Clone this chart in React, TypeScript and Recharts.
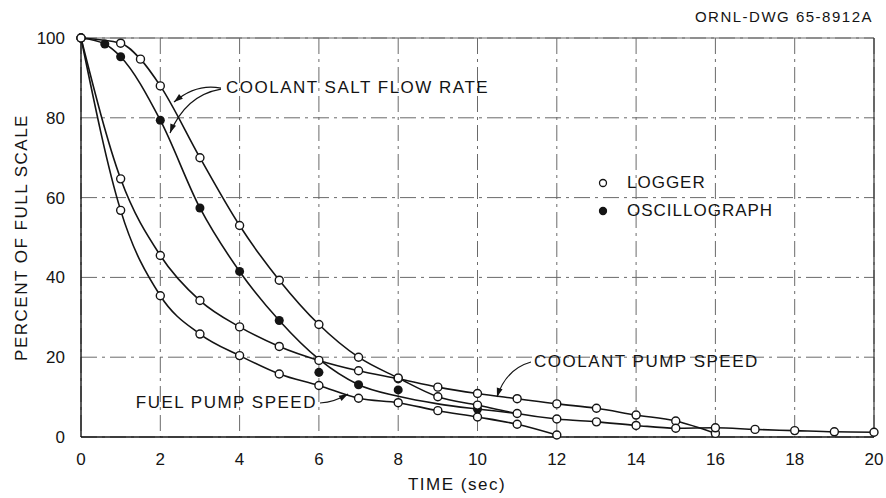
import React from "react";
import {
  ComposedChart,
  Line,
  Scatter,
  XAxis,
  YAxis,
  CartesianGrid,
  ReferenceLine,
  ReferenceDot,
  Legend,
} from "recharts";

// axis ticks
const timeTicks = [0, 2, 4, 6, 8, 10, 12, 14, 16, 18, 20];
const percentTicks = [0, 20, 40, 60, 80, 100];

// coolant salt flow rate, logger (open circles)
const saltLoggerTime = [0, 1, 1.5, 2, 3, 4, 5, 6, 7, 8, 9, 10, 11, 12, 13, 14, 15, 16, 17, 18, 19, 20];
const saltLoggerPct = [100, 98.7, 94.7, 88, 70, 53, 39.3, 28.2, 20, 14.8, 10.1, 8.0, 5.9, 4.5, 3.8, 2.9, 2.2, 2.3, 1.9, 1.6, 1.3, 1.2];

// coolant salt flow rate, oscillograph (filled points + faired curve)
const saltOscTime = [0.6, 1, 2, 3, 4, 5, 6, 7, 8, 10];
const saltOscPct = [98.5, 95.3, 79.4, 57.4, 41.5, 29.2, 16.2, 13.1, 11.8, 7.0];
const saltOscCurveTime = [0, 0.6, 1, 2, 3, 4, 5, 6, 7, 8, 9, 10, 11];
const saltOscCurvePct = [100, 98.5, 95.3, 79.4, 57.4, 41.5, 29.2, 19.5, 13.1, 10.2, 8.3, 7.0, 5.9];

// coolant pump speed
const pumpTime = [0, 1, 2, 3, 4, 5, 6, 7, 8, 9, 10, 11, 12, 13, 14, 15, 16];
const pumpPct = [100, 64.7, 45.5, 34.2, 27.6, 22.7, 19.2, 16.6, 14.6, 12.5, 10.9, 9.6, 8.3, 7.2, 5.5, 4.0, 0.9];

// fuel pump speed
const fuelTime = [0, 1, 2, 3, 4, 5, 6, 7, 8, 9, 10, 11, 12];
const fuelPct = [100, 56.8, 35.4, 25.8, 20.4, 15.8, 12.9, 9.7, 8.6, 6.6, 5.0, 3.2, 0.5];

const toPoints = (t: number[], v: number[]) => t.map((x, i) => ({ t: x, pct: v[i] }));

const INK = "#141414";
const FONT = "'Liberation Sans', Arial, sans-serif";

const openDot = { r: 4, fill: "#fff", stroke: INK, strokeWidth: 1.4 };

function arrowHead(tx: number, ty: number, fx: number, fy: number, len = 9, half = 3) {
  const dx = tx - fx;
  const dy = ty - fy;
  const d = Math.hypot(dx, dy) || 1;
  const ux = dx / d;
  const uy = dy / d;
  const bx = tx - ux * len;
  const by = ty - uy * len;
  return `${tx},${ty} ${bx - uy * half},${by + ux * half} ${bx + uy * half},${by - ux * half}`;
}

const textStyle = { fontFamily: FONT, fontSize: 17, letterSpacing: 1.5, fill: INK };

const SaltNote = ({ cx, cy }: any) => (
  <g>
    <text x={cx} y={cy} dy="0.35em" {...textStyle}>COOLANT SALT FLOW RATE</text>
    <path d={`M${cx - 5},${cy + 1} Q${cx - 30},${cy - 4} ${cx - 52},${cy + 15}`} fill="none" stroke={INK} strokeWidth={1.2} />
    <polygon points={arrowHead(cx - 52, cy + 15, cx - 36, cy + 2)} fill={INK} />
    <path d={`M${cx - 5},${cy + 2} Q${cx - 40},${cy + 8} ${cx - 56},${cy + 46}`} fill="none" stroke={INK} strokeWidth={1.2} />
    <polygon points={arrowHead(cx - 56, cy + 46, cx - 48, cy + 25)} fill={INK} />
  </g>
);

const PumpNote = ({ cx, cy }: any) => (
  <g>
    <text x={cx} y={cy} dy="0.35em" {...textStyle}>COOLANT PUMP SPEED</text>
    <path d={`M${cx - 3},${cy + 1} Q${cx - 28},${cy + 8} ${cx - 37},${cy + 36}`} fill="none" stroke={INK} strokeWidth={1.2} />
    <polygon points={arrowHead(cx - 37, cy + 36, cx - 32, cy + 20)} fill={INK} />
  </g>
);

const FuelNote = ({ cx, cy }: any) => (
  <g>
    <text x={cx} y={cy} dy="0.35em" textAnchor="end" {...textStyle}>FUEL PUMP SPEED</text>
    <path d={`M${cx + 3},${cy + 1} Q${cx + 18},${cy} ${cx + 31},${cy - 8}`} fill="none" stroke={INK} strokeWidth={1.2} />
    <polygon points={arrowHead(cx + 31, cy - 8, cx + 20, cy - 2)} fill={INK} />
  </g>
);

const YTitle = (props: any) => {
  const vb = props.viewBox || { x: 0, y: 38, width: 81, height: 399 };
  const x = vb.x + 21.5;
  const y = vb.y + vb.height / 2;
  return (
    <text x={x} y={y} dy="0.35em" textAnchor="middle" transform={`rotate(-90 ${x} ${y})`} {...textStyle}>
      PERCENT OF FULL SCALE
    </text>
  );
};

const XTitle = (props: any) => {
  const vb = props.viewBox || { x: 81, y: 437, width: 793, height: 61 };
  return (
    <text x={457} y={vb.y + 53} textAnchor="middle" {...textStyle}>
      TIME (sec)
    </text>
  );
};

const renderLegend = () => (
  <div style={{ fontFamily: FONT, fontSize: 17, letterSpacing: 1, color: INK }}>
    {[
      { label: "LOGGER", filled: false },
      { label: "OSCILLOGRAPH", filled: true },
    ].map((item) => (
      <div key={item.label} style={{ display: "flex", alignItems: "center", height: 28 }}>
        <svg width={14} height={14}>
          <circle cx={7} cy={7} r={3.5} fill={item.filled ? INK : "#fff"} stroke={INK} strokeWidth={1.3} />
        </svg>
        <span style={{ marginLeft: 17 }}>{item.label}</span>
      </div>
    ))}
  </div>
);

export default function App() {
  return (
    <div style={{ position: "absolute", left: 0, top: 0, width: 886, height: 498, background: "#fff" }}>
      <div
        style={{
          position: "absolute",
          right: 13,
          top: 9,
          fontFamily: FONT,
          fontSize: 15,
          lineHeight: "15px",
          letterSpacing: 1.5,
          color: INK,
        }}
      >
        ORNL-DWG 65-8912A
      </div>
      <ComposedChart width={886} height={498} margin={{ top: 38, right: 12, left: 0, bottom: 0 }}>
        <CartesianGrid stroke="#6a6a6a" strokeDasharray="16 5 3 5" strokeWidth={1} />
        <ReferenceLine y={100} stroke="#6a6a6a" strokeWidth={1.2} />
        <ReferenceLine x={20} stroke="#333" strokeWidth={1.2} />
        <XAxis
          dataKey="t"
          type="number"
          domain={[0, 20]}
          ticks={timeTicks}
          interval={0}
          height={61}
          tickSize={0}
          tickMargin={16}
          tick={{ fontSize: 17, fill: INK, fontFamily: FONT }}
          axisLine={{ stroke: INK, strokeWidth: 1.4 }}
          tickLine={false}
          label={<XTitle />}
        />
        <YAxis
          type="number"
          domain={[0, 100]}
          ticks={percentTicks}
          interval={0}
          width={81}
          tickSize={0}
          tickMargin={16}
          tick={{ fontSize: 17, fill: INK, fontFamily: FONT }}
          axisLine={{ stroke: INK, strokeWidth: 1.4 }}
          tickLine={false}
          label={<YTitle />}
        />
        <Line
          data={toPoints(saltOscCurveTime, saltOscCurvePct)}
          dataKey="pct"
          type="monotone"
          stroke={INK}
          strokeWidth={1.6}
          dot={false}
          isAnimationActive={false}
        />
        <Line
          data={toPoints(fuelTime, fuelPct)}
          dataKey="pct"
          type="monotone"
          stroke={INK}
          strokeWidth={1.6}
          dot={openDot}
          isAnimationActive={false}
        />
        <Line
          data={toPoints(pumpTime, pumpPct)}
          dataKey="pct"
          type="monotone"
          stroke={INK}
          strokeWidth={1.6}
          dot={openDot}
          isAnimationActive={false}
        />
        <Line
          data={toPoints(saltLoggerTime, saltLoggerPct)}
          dataKey="pct"
          type="monotone"
          stroke={INK}
          strokeWidth={1.6}
          dot={openDot}
          isAnimationActive={false}
        />
        <Scatter
          data={toPoints(saltOscTime, saltOscPct)}
          dataKey="pct"
          fill={INK}
          shape="circle"
          isAnimationActive={false}
        />
        <ReferenceDot x={3.657} y={87.7} r={0} shape={(p: any) => <SaltNote {...p} />} />
        <ReferenceDot x={11.425} y={19.05} r={0} shape={(p: any) => <PumpNote {...p} />} />
        <ReferenceDot x={5.952} y={8.77} r={0} shape={(p: any) => <FuelNote {...p} />} />
        <Legend
          content={renderLegend}
          layout="vertical"
          align="center"
          verticalAlign="middle"
          wrapperStyle={{ left: 596, top: 169, width: "auto" }}
        />
      </ComposedChart>
    </div>
  );
}
